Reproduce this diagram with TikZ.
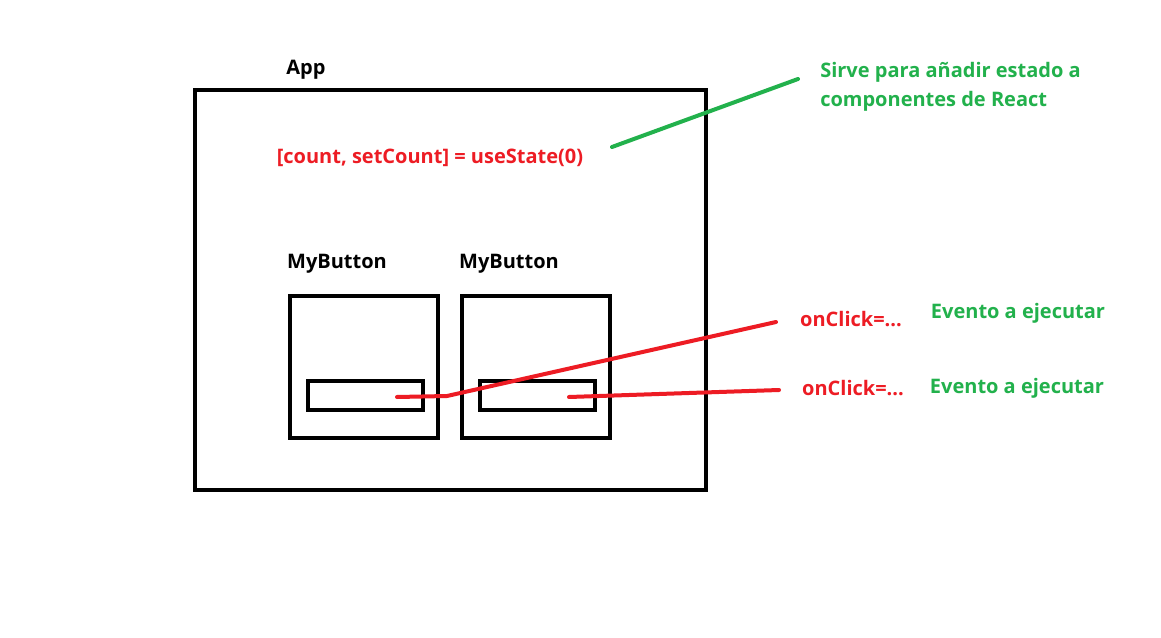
\documentclass[tikz,border=0pt]{standalone}
\usepackage{fontspec}
\setmainfont{Open Sans}
\definecolor{pred}{RGB}{237,28,36}
\definecolor{pgreen}{RGB}{34,177,76}
\begin{document}
\begin{tikzpicture}[x=0.75pt,y=-0.75pt,
  lbl/.style={font=\fontsize{15}{21.75}\selectfont\bfseries, inner sep=0pt},
  box/.style={draw=black, line width=3pt, inner sep=0pt},
  wire/.style={line width=3pt, line cap=round, line join=round}]
\useasboundingbox[fill=white] (0,0) rectangle (1161,638);
\node[box, minimum width=383.25pt, minimum height=300pt] (app) at (450.5,290) {};
\node[lbl] (applbl) at (306,70) {App};
\node[lbl, text=pred] (state) at (430,158) {[count, setCount] = useState(0)};
\node[lbl, text=pgreen, align=left, anchor=west] (note) at (820,86.5) {Sirve para añadir estado a\\componentes de React};
\coordinate (g1) at (612,147);
\coordinate (g2) at (798,79);
\draw[wire, pgreen] (g1) -- (g2);
\node[lbl] (mb1) at (337,264) {MyButton};
\node[lbl] (mb2) at (509,264) {MyButton};
\node[box, minimum width=111pt, minimum height=106.5pt] (b1) at (364,367) {};
\node[box, minimum width=111pt, minimum height=106.5pt] (b2) at (536,367) {};
\node[box, minimum width=86.25pt, minimum height=21.75pt] (i1) at (365.5,395.5) {};
\node[box, minimum width=86.25pt, minimum height=21.75pt] (i2) at (537.5,395.5) {};
\node[lbl, text=pred] (oc1) at (851,319) {onClick=...};
\node[lbl, text=pred] (oc2) at (853,388) {onClick=...};
\node[lbl, text=pgreen] (ev1) at (1018,313) {Evento a ejecutar};
\node[lbl, text=pgreen] (ev2) at (1017,388) {Evento a ejecutar};
\coordinate (r1a) at (397,397);
\coordinate (r1b) at (447,396);
\coordinate (r1c) at (776,322);
\coordinate (r2a) at (569,397);
\coordinate (r2b) at (779,390);
\draw[wire, pred] (r1a) -- (r1b) -- (r1c);
\draw[wire, pred] (r2a) -- (r2b);
\end{tikzpicture}
\end{document}
